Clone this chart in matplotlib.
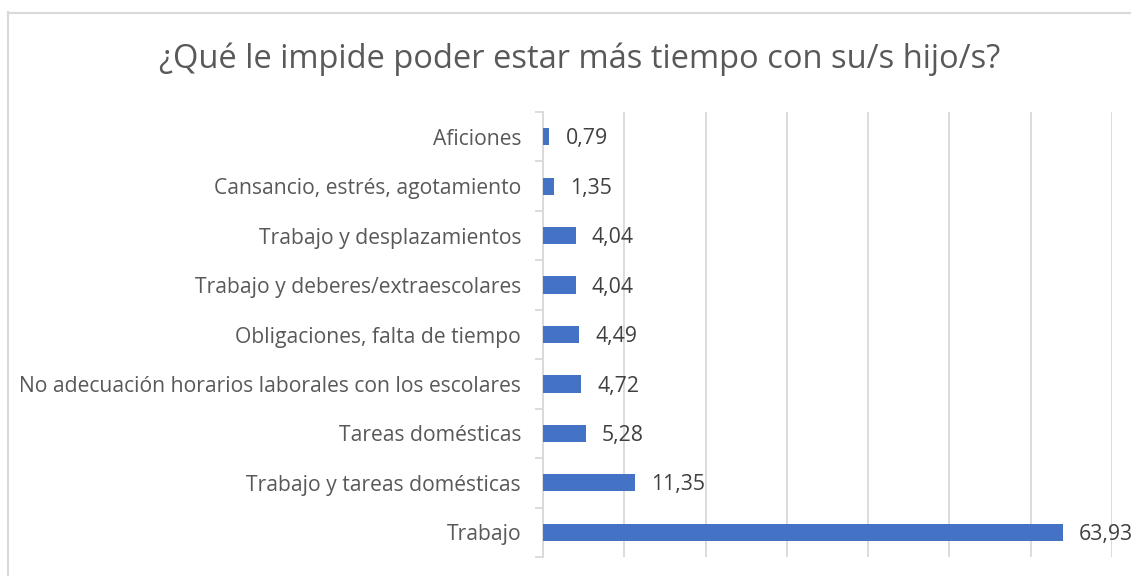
import matplotlib
matplotlib.use("Agg")
import matplotlib.pyplot as plt
from matplotlib.lines import Line2D
import numpy as np

categories = [
    "Trabajo",
    "Trabajo y tareas domésticas",
    "Tareas domésticas",
    "No adecuación horarios laborales con los escolares",
    "Obligaciones, falta de tiempo",
    "Trabajo y deberes/extraescolares",
    "Trabajo y desplazamientos",
    "Cansancio, estrés, agotamiento",
    "Aficiones",
]
values = [63.93, 11.35, 5.28, 4.72, 4.49, 4.04, 4.04, 1.35, 0.79]
title = "¿Qué le impide poder estar más tiempo con su/s hijo/s?"

W, H = 1131, 576
fig = plt.figure(figsize=(W / 100, H / 100), dpi=100)
plt.rcParams['font.family'] = ['Open Sans', 'DejaVu Sans']

left, right, top, bottom = 543, 1112, 112, 557
ax = fig.add_axes([left / W, 1 - bottom / H, (right - left) / W, (bottom - top) / H])

y = np.arange(len(categories))
ax.barh(y, values, height=0.35, color="#4472C4", zorder=3)
ax.set_xlim(0, 70)
ax.set_ylim(-0.5, len(categories) - 0.5)
ax.set_xticks(np.arange(0, 71, 10))
ax.xaxis.grid(True, color="#d9d9d9", linewidth=1.3, zorder=0)
ax.tick_params(axis='x', length=0, labelbottom=False)

ax.set_yticks(y)
ax.set_yticklabels(categories, fontsize=15.2, color="#595959")
ax.tick_params(axis='y', length=0, pad=15.8)
ax.set_yticks(np.arange(-0.5, len(categories), 1), minor=True)
ax.tick_params(axis='y', which='minor', length=6, color="#d9d9d9", width=1.3)

for s in ["top", "right", "bottom"]:
    ax.spines[s].set_visible(False)
ax.spines["left"].set_color("#d9d9d9")
ax.spines["left"].set_linewidth(1.3)

for yi, v in zip(y, values):
    ax.annotate(f"{v:.2f}".replace(".", ","), xy=(v, yi), xytext=(11.5, -1.5),
                textcoords="offset points", va="center", ha="left",
                fontsize=15.3, color="#404040", annotation_clip=False, clip_on=False)

fig.text(580 / W, 1 - 59 / H, title, ha="center", va="center", fontsize=23.5, color="#595959")

fig.add_artist(Line2D([7.5 / W, 7.5 / W], [1 - 12 / H, 0], transform=fig.transFigure, color="#d9d9d9", linewidth=1.5))
fig.add_artist(Line2D([7.5 / W, 1], [1 - 12.5 / H, 1 - 12.5 / H], transform=fig.transFigure, color="#d9d9d9", linewidth=1.5))

fig.savefig("out.png", dpi=100)
